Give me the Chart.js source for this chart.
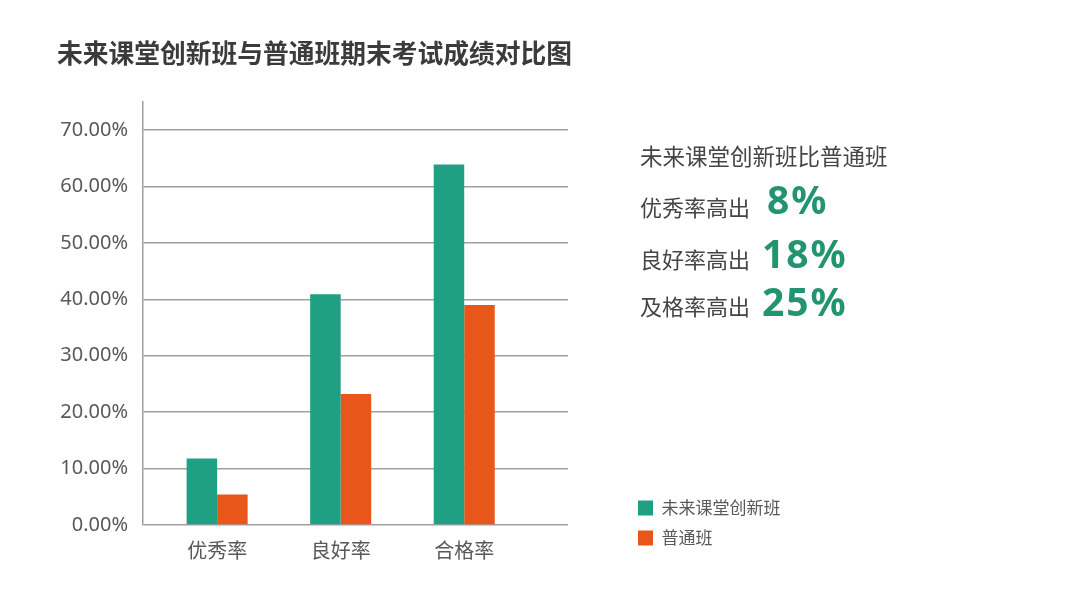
<!DOCTYPE html>
<html>
<head>
<meta charset="utf-8">
<script src="https://cdn.jsdelivr.net/npm/chart.js@4"></script>
<style>
  html, body { margin: 0; padding: 0; background: #ffffff; }
  #wrap { position: relative; width: 1080px; height: 603px; overflow: hidden; }
  #chart { position: absolute; left: 0; top: 0; }
  .note { position: absolute; white-space: nowrap; font-family: "Noto Sans CJK SC", "Noto Sans", sans-serif; color: #454545; }
  .big { position: absolute; white-space: nowrap; font-family: "Noto Sans", "Open Sans", sans-serif; font-weight: 700; color: #22946f; letter-spacing: 2px; }
</style>
</head>
<body>
<div id="wrap">
  <canvas id="chart" width="1080" height="603"></canvas>
  <div id="notes"></div>
</div>
<script>
const chartTitle = '未来课堂创新班与普通班期末考试成绩对比图';
const categories = ['优秀率', '良好率', '合格率'];
const seriesNames = ['未来课堂创新班', '普通班'];
const innovationValues = [11.8, 40.9, 63.9];
const regularValues = [5.4, 23.2, 39.0];
const yTickValues = [0, 10, 20, 30, 40, 50, 60, 70];
const noteHeading = '未来课堂创新班比普通班';
const noteLabels = ['优秀率高出', '良好率高出', '及格率高出'];
const noteValues = ['8%', '18%', '25%'];

const cjk = '"Noto Sans CJK SC", "Noto Sans", sans-serif';
const GREEN = '#20a083';
const ORANGE = '#e8561a';
const GRID = '#a0a0a0';
const TEXT = '#595959';

// place the legend at the lower right, outside the plot
const legendPlacer = {
  id: 'legendPlacer',
  afterLayout(chart) {
    const lg = chart.legend;
    if (!lg) return;
    const w = lg.width, h = lg.height;
    lg.left = 625;
    lg.top = 486.5;
    lg.right = lg.left + w + 40;
    lg.bottom = lg.top + Math.max(h, 80);
    lg.width = lg.right - lg.left;
    lg.height = lg.bottom - lg.top;
  }
};

const ctx = document.getElementById('chart').getContext('2d');
new Chart(ctx, {
  type: 'bar',
  data: {
    datasets: [
      {
        label: seriesNames[0],
        data: innovationValues.map((v, i) => ({ x: i, y: v })),
        backgroundColor: GREEN,
        borderWidth: 0,
        categoryPercentage: 0.494,
        barPercentage: 1.0
      },
      {
        label: seriesNames[1],
        data: regularValues.map((v, i) => ({ x: i, y: v })),
        backgroundColor: ORANGE,
        borderWidth: 0,
        categoryPercentage: 0.494,
        barPercentage: 1.0
      }
    ]
  },
  plugins: [legendPlacer],
  options: {
    responsive: false,
    animation: false,
    layout: { padding: { left: 57, right: 508, top: 0, bottom: 0 } },
    plugins: {
      title: {
        display: true,
        text: chartTitle,
        align: 'start',
        color: '#3b3b3b',
        font: { family: cjk, size: 25.75, weight: 'bold', lineHeight: 1.2 },
        padding: { top: 38, bottom: 32.9 }
      },
      legend: {
        position: 'chartArea',
        align: 'start',
        labels: {
          boxWidth: 15,
          boxHeight: 15,
          padding: 13,
          color: TEXT,
          font: { family: cjk, size: 17 }
        }
      },
      tooltip: { enabled: false }
    },
    scales: {
      x: {
        type: 'linear',
        min: -0.6,
        max: 2.84,
        offset: false,
        grid: { display: false },
        border: { display: false },
        afterBuildTicks: s => { s.ticks = categories.map((c, i) => ({ value: i })); },
        afterFit: s => { s.height = 78; },
        ticks: {
          autoSkip: false,
          maxRotation: 0,
          padding: 5,
          color: TEXT,
          font: { family: cjk, size: 20 },
          callback: v => categories[v]
        }
      },
      y: {
        min: 0,
        max: 75,
        afterBuildTicks: s => { s.ticks = yTickValues.map(v => ({ value: v })); },
        afterFit: s => { s.width = 86; },
        grid: { color: GRID, lineWidth: 1.5, drawTicks: false },
        border: { color: GRID, width: 1.5 },
        ticks: {
          padding: 15,
          color: TEXT,
          font: { family: '"Noto Sans", sans-serif', size: 20 },
          callback: v => v.toFixed(2) + '%'
        }
      },
      y2: {
        position: 'right',
        display: true,
        grid: { display: false },
        border: { display: false },
        ticks: { display: false },
        afterFit: s => { s.width = 4; }
      }
    }
  }
});

// right-side annotation text
const notes = document.getElementById('notes');
function addText(cls, text, left, centerY, size) {
  const d = document.createElement('div');
  d.className = cls;
  d.textContent = text;
  d.style.left = left + 'px';
  d.style.fontSize = size + 'px';
  d.style.lineHeight = '60px';
  d.style.top = (centerY - 30) + 'px';
  notes.appendChild(d);
}
addText('note', noteHeading, 640, 155, 22.5);
const rowCenters = [206, 257.5, 305];
const bigCenters = [198.5, 252.5, 301];
const bigLefts = [767, 762, 762];
noteLabels.forEach((t, i) => {
  addText('note', t, 640, rowCenters[i], 22);
  addText('big', noteValues[i], bigLefts[i], bigCenters[i], 39);
});
</script>
</body>
</html>
